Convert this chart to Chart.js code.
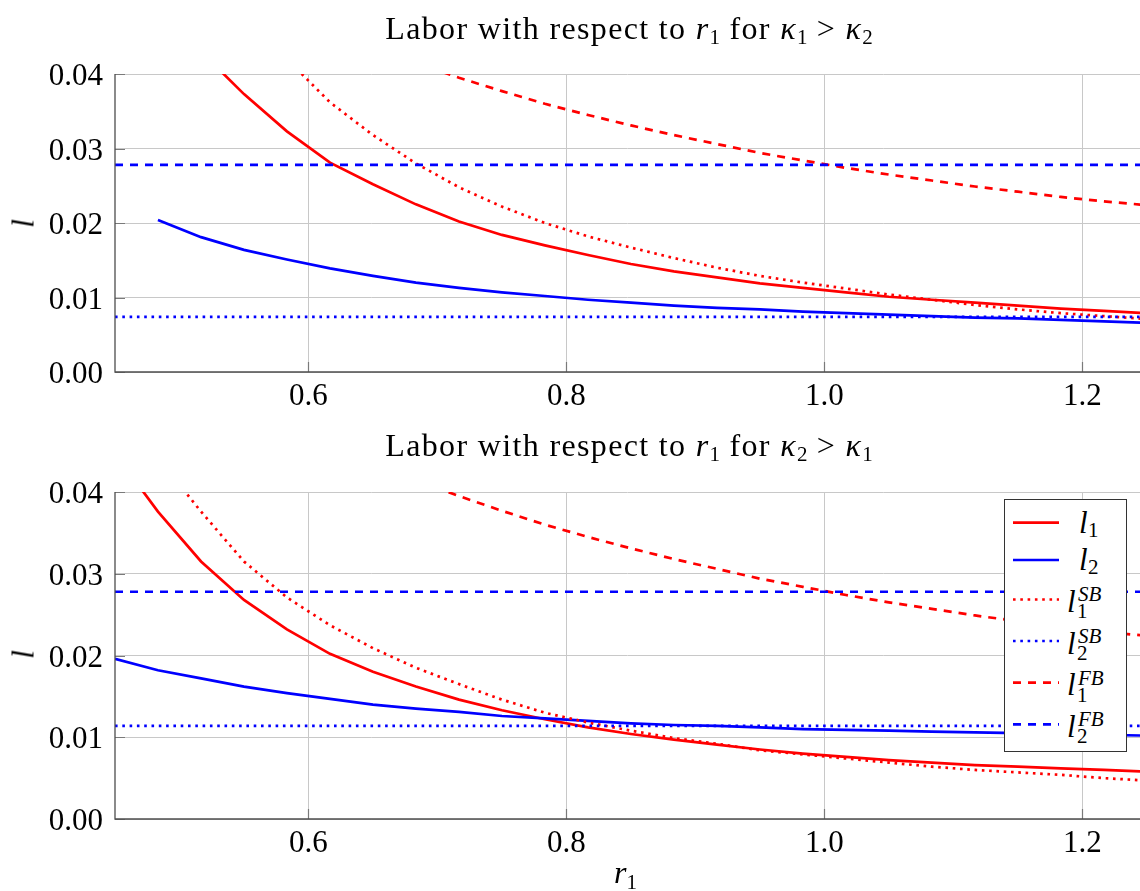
<!DOCTYPE html>
<html>
<head>
<meta charset="utf-8">
<script src="https://cdn.jsdelivr.net/npm/chart.js@4.4.1/dist/chart.umd.min.js"></script>
<style>
  html, body { margin: 0; padding: 0; background: #fff; }
  body { width: 1140px; height: 891px; position: relative; overflow: hidden; font-family: "Liberation Serif", serif; color: #000; }
  .cv { position: absolute; left: 0; }
  .ttl { position: absolute; left: 0; width: 1140px; padding-left: 118px; box-sizing: border-box; text-align: center; font-size: 32px; line-height: 32px; letter-spacing: 1.35px; white-space: nowrap; }
  .ttl i { font-style: italic; }
  .ttl sub { font-size: 21px; vertical-align: -5px; line-height: 0; letter-spacing: 0; }
  .ylab { position: absolute; font-style: italic; font-size: 31px; line-height: 31px; transform: rotate(-90deg); transform-origin: center center; }
  .xlab { position: absolute; font-size: 32px; line-height: 32px; }
  .xlab sub { font-size: 21px; vertical-align: -6px; line-height: 0; font-style: normal; }
  #legend { position: absolute; left: 1004px; top: 499px; width: 121px; height: 251px; border: 1px solid #333; background: #fff; }
  .lp { position: absolute; line-height: 1; white-space: nowrap; }
  .lb { font-size: 31px; font-style: italic; }
  .ls { font-size: 21px; }
  .lsi { font-size: 21px; font-style: italic; }
</style>
</head>
<body>
<div class="cv" style="top:0;width:1140px;height:430px;"><canvas id="c1" width="1140" height="430"></canvas></div>
<div class="cv" style="top:430px;width:1140px;height:461px;"><canvas id="c2" width="1140" height="461"></canvas></div>

<div class="ttl" style="top:12px;">Labor with respect to <i>r</i><sub>1</sub> for <i>κ</i><sub>1</sub> &gt; <i>κ</i><sub>2</sub></div>
<div class="ttl" style="top:429px;">Labor with respect to <i>r</i><sub>1</sub> for <i>κ</i><sub>2</sub> &gt; <i>κ</i><sub>1</sub></div>

<div class="ylab" style="left:8px;top:208px;width:30px;text-align:center;">l</div>
<div class="ylab" style="left:8px;top:639px;width:30px;text-align:center;">l</div>
<div class="xlab" style="left:614px;top:856px;"><i>r</i><sub>1</sub></div>

<div id="legend"></div>
<div class="lp lb" style="left:1079px;top:507px;">l</div>
<div class="lp ls" style="left:1088px;top:520px;">1</div>
<div class="lp lb" style="left:1079px;top:544px;">l</div>
<div class="lp ls" style="left:1088px;top:557px;">2</div>
<div class="lp lb" style="left:1067px;top:586px;">l</div>
<div class="lp lsi" style="left:1078px;top:584px;">SB</div>
<div class="lp ls" style="left:1077px;top:601px;">1</div>
<div class="lp lb" style="left:1067px;top:628px;">l</div>
<div class="lp lsi" style="left:1078px;top:626px;">SB</div>
<div class="lp ls" style="left:1077px;top:643px;">2</div>
<div class="lp lb" style="left:1067px;top:669px;">l</div>
<div class="lp lsi" style="left:1078px;top:668px;">FB</div>
<div class="lp ls" style="left:1077px;top:685px;">1</div>
<div class="lp lb" style="left:1067px;top:711px;">l</div>
<div class="lp lsi" style="left:1078px;top:709px;">FB</div>
<div class="lp ls" style="left:1077px;top:726px;">2</div>
<svg style="position:absolute;left:0;top:0;" width="1140" height="891">
  <line x1="1013" y1="522.7" x2="1059" y2="522.7" stroke="#ff0000" stroke-width="2.7"/>
  <line x1="1013" y1="560" x2="1059" y2="560" stroke="#0000ff" stroke-width="2.7"/>
  <line x1="1013" y1="599.5" x2="1059" y2="599.5" stroke="#ff0000" stroke-width="2.7" stroke-dasharray="2.6 4.7"/>
  <line x1="1013" y1="641" x2="1059" y2="641" stroke="#0000ff" stroke-width="2.7" stroke-dasharray="2.6 4.7"/>
  <line x1="1013" y1="682.7" x2="1059" y2="682.7" stroke="#ff0000" stroke-width="2.7" stroke-dasharray="8 7"/>
  <line x1="1013" y1="724.3" x2="1059" y2="724.3" stroke="#0000ff" stroke-width="2.7" stroke-dasharray="8 7"/>
</svg>

<script>
// ---- data ----
const r1 = [0.45, 0.4833, 0.5167, 0.55, 0.5833, 0.6167, 0.65, 0.6833, 0.7167, 0.75, 0.7833, 0.8167, 0.85,
            0.8833, 0.9167, 0.95, 0.9833, 1.0167, 1.05, 1.0833, 1.1167, 1.15, 1.1833, 1.2167, 1.25];

const xTicks = [0.6, 0.8, 1.0, 1.2];
const yTicks = [0.00, 0.01, 0.02, 0.03, 0.04];

// top panel: kappa1 > kappa2
const topL1   = [0.058, 0.050, 0.0430, 0.0373, 0.0323, 0.0281, 0.0252, 0.0225, 0.0202, 0.0184, 0.0170, 0.0157, 0.0145,
                 0.0135, 0.0127, 0.0119, 0.0113, 0.0107, 0.0101, 0.0097, 0.0093, 0.0089, 0.0085, 0.0082, 0.0079];
const topL2   = [null, 0.0204, 0.0181, 0.0164, 0.0151, 0.0139, 0.0129, 0.0120, 0.0113, 0.0107, 0.0102, 0.0097, 0.0093,
                 0.0089, 0.0086, 0.0084, 0.0081, 0.0079, 0.0077, 0.0075, 0.0073, 0.0072, 0.0070, 0.0068, 0.0066];
const topL1SB = [0.075, 0.066, 0.058, 0.049, 0.0420, 0.0362, 0.0318, 0.0280, 0.0248, 0.0222, 0.0200, 0.0182, 0.0167,
                 0.0153, 0.0140, 0.0129, 0.0120, 0.0112, 0.0104, 0.0097, 0.0090, 0.0084, 0.0079, 0.0075, 0.0071];
const topL2SB = [0.0074, 0.0074, 0.0074, 0.0074, 0.0074, 0.0074, 0.0074, 0.0074, 0.0074, 0.0074, 0.0074, 0.0074, 0.0074,
                 0.0074, 0.0074, 0.0074, 0.0074, 0.0074, 0.0074, 0.0074, 0.0074, 0.0074, 0.0074, 0.0074, 0.0074];
const topL1FB = [0.0640, 0.0593, 0.0553, 0.0518, 0.0487, 0.0460, 0.0437, 0.0415, 0.0395, 0.0377, 0.0360, 0.0345, 0.0331,
                 0.0318, 0.0306, 0.0294, 0.0284, 0.0274, 0.0265, 0.0257, 0.0249, 0.0242, 0.0235, 0.0229, 0.0224];
const topL2FB = [0.0278, 0.0278, 0.0278, 0.0278, 0.0278, 0.0278, 0.0278, 0.0278, 0.0278, 0.0278, 0.0278, 0.0278, 0.0278,
                 0.0278, 0.0278, 0.0278, 0.0278, 0.0278, 0.0278, 0.0278, 0.0278, 0.0278, 0.0278, 0.0278, 0.0278];

// bottom panel: kappa2 > kappa1
const botL1   = [0.0447, 0.0376, 0.0315, 0.0268, 0.0232, 0.0202, 0.0180, 0.0162, 0.0146, 0.0133, 0.0122, 0.0112, 0.0104,
                 0.0097, 0.0091, 0.0085, 0.0080, 0.0076, 0.0072, 0.0069, 0.0066, 0.0064, 0.0062, 0.0060, 0.0058];
const botL2   = [0.0196, 0.0182, 0.0172, 0.0162, 0.0154, 0.0147, 0.0140, 0.0135, 0.0131, 0.0126, 0.0123, 0.0120, 0.0117,
                 0.0115, 0.0114, 0.0112, 0.0110, 0.0109, 0.0108, 0.0107, 0.0106, 0.0105, 0.0104, 0.0103, 0.0102];
const botL1SB = [0.052, 0.0442, 0.0376, 0.0315, 0.0271, 0.0237, 0.0209, 0.0185, 0.0165, 0.0146, 0.0130, 0.0118, 0.0108,
                 0.0099, 0.0092, 0.0084, 0.0079, 0.0074, 0.0069, 0.0064, 0.0060, 0.0057, 0.0054, 0.0050, 0.0047];
const botL2SB = [0.0114, 0.0114, 0.0114, 0.0114, 0.0114, 0.0114, 0.0114, 0.0114, 0.0114, 0.0114, 0.0114, 0.0114, 0.0114,
                 0.0114, 0.0114, 0.0114, 0.0114, 0.0114, 0.0114, 0.0114, 0.0114, 0.0114, 0.0114, 0.0114, 0.0114];
const botL1FB = [0.0640, 0.0593, 0.0553, 0.0518, 0.0487, 0.0460, 0.0437, 0.0415, 0.0395, 0.0377, 0.0360, 0.0345, 0.0331,
                 0.0318, 0.0306, 0.0294, 0.0284, 0.0274, 0.0265, 0.0257, 0.0249, 0.0242, 0.0235, 0.0229, 0.0224];
const botL2FB = [0.0278, 0.0278, 0.0278, 0.0278, 0.0278, 0.0278, 0.0278, 0.0278, 0.0278, 0.0278, 0.0278, 0.0278, 0.0278,
                 0.0278, 0.0278, 0.0278, 0.0278, 0.0278, 0.0278, 0.0278, 0.0278, 0.0278, 0.0278, 0.0278, 0.0278];

const seriesNames = ['l1', 'l2', 'l1SB', 'l2SB', 'l1FB', 'l2FB'];

// ---- styling ----
const RED = '#ff0000', BLUE = '#0000ff';
const DOT = [2.6, 4.7], DASH = [8, 7];
const styles = [
  { c: RED,  d: [] }, { c: BLUE, d: [] },
  { c: RED,  d: DOT }, { c: BLUE, d: DOT },
  { c: RED,  d: DASH }, { c: BLUE, d: DASH }
];

function pts(arr) { return r1.map((x, i) => ({ x: x, y: arr[i] })); }

const innerTicks = {
  id: 'innerTicks',
  afterDraw(chart) {
    const ctx = chart.ctx, a = chart.chartArea;
    const xs = chart.scales.x, ys = chart.scales.y;
    ctx.save();
    ctx.strokeStyle = '#7a7a7a';
    ctx.lineWidth = 1.2;
    ctx.beginPath();
    yTicks.forEach(v => { const p = Math.round(ys.getPixelForValue(v)) + 0.5; ctx.moveTo(a.left, p); ctx.lineTo(a.left + 10, p); });
    xTicks.forEach(v => { const p = Math.round(xs.getPixelForValue(v)) + 0.5; ctx.moveTo(p, a.bottom); ctx.lineTo(p, a.bottom - 10); });
    ctx.stroke();
    ctx.strokeStyle = '#4d4d4d';
    ctx.lineWidth = 1.3;
    ctx.beginPath();
    ctx.moveTo(a.left, a.top); ctx.lineTo(a.left, a.bottom); ctx.lineTo(a.right, a.bottom);
    ctx.stroke();
    ctx.restore();
  }
};

function makeChart(id, seriesList, padTop, xHeight) {
  const datasets = seriesList.map((arr, i) => ({
    label: seriesNames[i],
    data: pts(arr),
    borderColor: styles[i].c,
    backgroundColor: styles[i].c,
    borderWidth: 2.7,
    borderDash: styles[i].d,
    borderCapStyle: 'butt',
    pointRadius: 0,
    tension: 0,
    fill: false,
    spanGaps: false,
    clip: 0,
    order: 6 - i
  }));
  return new Chart(document.getElementById(id), {
    type: 'line',
    data: { datasets },
    options: {
      responsive: false,
      animation: false,
      events: [],
      layout: { padding: { top: padTop, left: 0, right: 0, bottom: 0 } },
      plugins: { legend: { display: false }, title: { display: false }, tooltip: { enabled: false } },
      scales: {
        x: {
          type: 'linear', min: 0.45, max: 1.2447,
          afterBuildTicks: s => { s.ticks = xTicks.map(v => ({ value: v })); },
          afterFit: s => { s.height = xHeight; },
          grid: { color: '#c8c8c8', lineWidth: 1, drawTicks: false },
          border: { display: false },
          ticks: { padding: 6, color: '#000', font: { family: 'Liberation Serif', size: 31 }, maxRotation: 0,
                   callback: v => Number(v).toFixed(1) }
        },
        y: {
          type: 'linear', min: 0, max: 0.04,
          afterBuildTicks: s => { s.ticks = yTicks.map(v => ({ value: v })); },
          afterFit: s => { s.width = 115; },
          grid: { color: '#c8c8c8', lineWidth: 1, drawTicks: false },
          border: { display: false },
          ticks: { padding: 12, labelOffset: 3, color: '#000', font: { family: 'Liberation Serif', size: 31 },
                   callback: v => Number(v).toFixed(2) }
        }
      }
    },
    plugins: [innerTicks]
  });
}

makeChart('c1', [topL1, topL2, topL1SB, topL2SB, topL1FB, topL2FB], 74, 58);
makeChart('c2', [botL1, botL2, botL1SB, botL2SB, botL1FB, botL2FB], 62, 72);
</script>
</body>
</html>
